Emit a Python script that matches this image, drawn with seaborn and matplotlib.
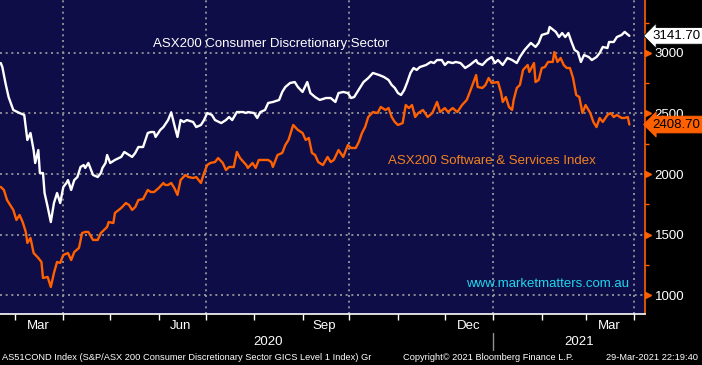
import numpy as np
import pandas as pd
import matplotlib
matplotlib.use('Agg')
import matplotlib.pyplot as plt
import matplotlib.dates as mdates
import matplotlib.transforms as mtransforms
import seaborn as sns

# day offsets from the first trading day shown, and index levels
start = pd.Timestamp('2020-02-21')

disc_days = [0, 1, 3, 5, 8, 12, 15, 16, 17, 19, 21, 22, 24, 25, 27, 28, 30, 32, 34, 36,
             38, 40, 42, 43, 45, 47, 49, 51, 53, 54, 56, 59, 62, 64, 65, 67, 68, 70, 73, 77,
             79, 82, 84, 86, 88, 91, 94, 96, 98, 99, 102, 104, 107, 109, 111, 113, 115, 117, 119, 123,
             125, 128, 130, 132, 135, 137, 141, 144, 146, 148, 151, 155, 157, 158, 162, 164, 166, 169, 171, 174,
             178, 180, 182, 185, 188, 190, 193, 196, 198, 201, 204, 208, 211, 214, 216, 219, 222, 224, 226, 228,
             230, 232, 235, 238, 242, 245, 248, 250, 252, 254, 256, 258, 260, 262, 264, 266, 268, 272, 275, 277,
             279, 282, 284, 286, 289, 291, 294, 297, 300, 304, 305, 308, 311, 314, 316, 318, 321, 324, 327, 330,
             332, 335, 339, 342, 344, 346, 350, 351, 355, 357, 359, 361, 363, 365, 367, 369, 371, 373, 376, 378,
             381, 383, 385, 388, 389, 392, 394, 397, 399, 402]
disc_vals = [2917, 2884, 2752, 2636, 2529, 2504, 2488, 2388, 2281, 2339, 2198, 2091, 2198, 2008, 2008, 1843, 1727, 1603, 1760, 1843,
             1760, 1893, 1926, 1950, 1868, 1950, 1975, 2058, 2074, 2050, 2091, 1992, 1975, 2008, 2050, 2091, 2157, 2091, 2116, 2141,
             2182, 2157, 2141, 2174, 2223, 2223, 2339, 2347, 2347, 2306, 2364, 2388, 2446, 2510, 2405, 2306, 2446, 2430, 2446, 2430,
             2388, 2405, 2446, 2504, 2488, 2446, 2421, 2446, 2471, 2446, 2512, 2512, 2504, 2512, 2504, 2463, 2512, 2529, 2587, 2595,
             2612, 2678, 2719, 2752, 2760, 2719, 2678, 2760, 2669, 2636, 2612, 2628, 2628, 2595, 2669, 2678, 2669, 2628, 2636, 2678,
             2719, 2760, 2793, 2835, 2818, 2802, 2777, 2736, 2711, 2669, 2653, 2694, 2760, 2835, 2876, 2860, 2884, 2901, 2926, 2917,
             2942, 2942, 2901, 2926, 2917, 2926, 2917, 2876, 2901, 2942, 2917, 2901, 2942, 2967, 2917, 2942, 2901, 2959, 2942, 2917,
             2967, 3025, 3083, 3050, 3083, 3149, 3165, 3215, 3174, 3132, 3165, 3132, 3165, 3091, 3025, 3008, 2926, 2983, 2967, 2942,
             2967, 3000, 3050, 3041, 3091, 3091, 3132, 3149, 3174, 3141.7]

soft_days = [0, 2, 4, 8, 10, 12, 14, 16, 17, 19, 21, 24, 26, 27, 30, 32, 34, 36, 38, 40,
             43, 45, 47, 50, 52, 54, 56, 59, 62, 64, 66, 68, 69, 72, 73, 77, 80, 82, 84, 86,
             88, 91, 94, 96, 98, 101, 104, 105, 107, 109, 111, 113, 115, 118, 120, 123, 125, 128, 130, 132,
             134, 137, 139, 142, 144, 146, 149, 151, 153, 157, 158, 161, 163, 165, 168, 171, 173, 174, 177, 180,
             182, 184, 187, 190, 193, 195, 197, 199, 201, 203, 206, 209, 211, 213, 216, 219, 222, 224, 227, 229,
             231, 233, 235, 238, 241, 243, 246, 248, 250, 252, 254, 257, 259, 261, 263, 265, 267, 270, 273, 276,
             279, 281, 284, 286, 289, 292, 295, 298, 300, 304, 305, 308, 310, 312, 314, 318, 320, 321, 323, 325,
             327, 328, 330, 332, 334, 337, 338, 341, 342, 344, 346, 348, 350, 353, 354, 356, 358, 360, 362, 364,
             366, 368, 370, 372, 374, 377, 379, 381, 383, 385, 388, 390, 392, 394, 397, 399, 401, 402]
soft_vals = [1893, 1868, 1785, 1703, 1620, 1661, 1603, 1521, 1430, 1471, 1347, 1306, 1273, 1141, 1149, 1066, 1182, 1273, 1265, 1331,
             1347, 1289, 1355, 1389, 1512, 1521, 1521, 1455, 1455, 1512, 1537, 1562, 1603, 1595, 1678, 1719, 1760, 1744, 1703, 1727,
             1785, 1793, 1868, 1851, 1851, 1884, 1926, 1910, 1909, 1926, 1884, 1827, 1950, 1992, 1975, 1967, 1975, 1926, 2008, 2074,
             2091, 2099, 2132, 2091, 2033, 2058, 2058, 2182, 2132, 2074, 2050, 2091, 2050, 2116, 2116, 2116, 2099, 2058, 2157, 2174,
             2240, 2281, 2405, 2364, 2339, 2281, 2298, 2174, 2157, 2099, 2074, 2141, 2099, 2116, 2198, 2141, 2240, 2215, 2215, 2265,
             2339, 2388, 2471, 2512, 2504, 2554, 2529, 2545, 2471, 2430, 2405, 2421, 2570, 2545, 2570, 2471, 2504, 2529, 2471, 2504,
             2595, 2512, 2545, 2512, 2545, 2512, 2570, 2612, 2678, 2818, 2719, 2711, 2736, 2793, 2752, 2760, 2669, 2595, 2636, 2554,
             2529, 2612, 2711, 2736, 2860, 2901, 2843, 2917, 2760, 2777, 2876, 2884, 2926, 2926, 3008, 2926, 2959, 2901, 2876, 2876,
             2793, 2653, 2636, 2504, 2570, 2504, 2430, 2388, 2463, 2430, 2488, 2504, 2471, 2488, 2463, 2463, 2471, 2408.7]

disc_name = 'ASX200 Consumer Discretionary Sector'
soft_name = 'ASX200 Software & Services Index'
y_ticks = [1000, 1500, 2000, 2500, 3000]
month_names = ['Mar', 'Jun', 'Sep', 'Dec', 'Mar']
month_mid = ['2020-03-16', '2020-06-15', '2020-09-15', '2020-12-16', '2021-03-16']
grid_dates = ['2020-04-01', '2020-07-01', '2020-10-01', '2021-01-01', '2021-04-01']
years = ['2020', '2021']
year_mid = ['2020-08-10', '2021-02-25']

navy = '#0f0d47'
orange = '#ff6000'

disc = pd.DataFrame({'date': start + pd.to_timedelta(disc_days, unit='D'), 'value': disc_vals})
soft = pd.DataFrame({'date': start + pd.to_timedelta(soft_days, unit='D'), 'value': soft_vals})

sns.set_style('dark', {'axes.facecolor': navy, 'figure.facecolor': 'black'})
plt.rcParams['font.family'] = ['Liberation Sans', 'DejaVu Sans']

fig = plt.figure(figsize=(7.02, 3.65), dpi=100)
ax = fig.add_axes([0, 1 - 314 / 365, 645 / 702, 314 / 365])
ax.set_facecolor(navy)

sns.lineplot(data=disc, x='date', y='value', color='white', lw=1.7, ax=ax, estimator=None)
sns.lineplot(data=soft, x='date', y='value', color=orange, lw=1.7, ax=ax, estimator=None)

ax.set_xlim(start - pd.Timedelta(days=0.5), start + pd.Timedelta(days=412))
ax.set_ylim(843, 3438)

# dotted grid
for g in y_ticks:
    ax.axhline(g, color='#a0a0a0', ls=(0, (1.2, 2.2)), lw=1.2, zorder=0.5)
for g in grid_dates:
    ax.axvline(pd.Timestamp(g), color='#a0a0a0', ls=(0, (1.2, 2.2)), lw=1.2, zorder=0.5)
ax.grid(False)

# right axis
ax.yaxis.tick_right()
ax.set_yticks(y_ticks)
ax.set_yticks(np.arange(1250, 3300, 500), minor=True)
ax.tick_params(axis='y', which='major', length=0, pad=7, labelcolor='white', labelsize=9.5)
ax.tick_params(axis='y', which='minor', length=3, color=orange, width=1, right=True)
ax.set_ylabel('')
ax.set_xlabel('')
tr = mtransforms.blended_transform_factory(ax.transAxes, ax.transData)
ax.plot([1.004] * len(y_ticks), y_ticks, ls='none', marker='>', ms=5, color=orange,
        transform=tr, clip_on=False, zorder=5)

for side in ['left', 'top']:
    ax.spines[side].set_visible(False)
ax.spines['right'].set_color(orange)
ax.spines['right'].set_linewidth(1.2)
ax.spines['bottom'].set_color('white')
ax.spines['bottom'].set_linewidth(1.2)

# bottom month ticks
ax.xaxis.set_major_locator(mdates.MonthLocator())
ax.xaxis.set_major_formatter(plt.NullFormatter())
ax.tick_params(axis='x', which='major', length=4, color='white', width=1, bottom=True)
trx = mtransforms.blended_transform_factory(ax.transData, fig.transFigure)
for name, d in zip(month_names, month_mid):
    ax.text(pd.Timestamp(d), 1 - 326 / 365, name, transform=trx, color='white',
            ha='center', va='center', fontsize=9.5)
for name, d in zip(years, year_mid):
    ax.text(pd.Timestamp(d), 1 - 342 / 365, name, transform=trx, color='white',
            ha='center', va='center', fontsize=9.5)
ax.plot([pd.Timestamp('2021-01-01')] * 2, [1 - 333 / 365, 1 - 350 / 365], color='#909090', lw=1,
        transform=trx, clip_on=False)

# series labels
ax.text(0.237, 0.86, disc_name, transform=ax.transAxes, color='white', fontsize=9.5, va='center')
ax.text(0.601, 0.487, soft_name, transform=ax.transAxes, color='#f0821e', fontsize=9.5, va='center')
ax.text(0.722, 0.096, 'www.marketmatters.com.au', transform=ax.transAxes, color='#1ed6ee',
        fontsize=9.5, va='center')

# last value tags
ax.annotate(f'{disc_vals[-1]:.2f}', xy=(1.0, disc_vals[-1]), xycoords=tr, xytext=(5.5, 0),
            textcoords='offset points', va='center', ha='left', fontsize=9.5, color='black',
            bbox=dict(boxstyle='larrow,pad=0.18', fc='white', ec='black', lw=0.6), zorder=6,
            annotation_clip=False)
ax.annotate(f'{soft_vals[-1]:.2f}', xy=(1.0, soft_vals[-1]), xycoords=tr, xytext=(5.5, 0),
            textcoords='offset points', va='center', ha='left', fontsize=9.5, color='black',
            bbox=dict(boxstyle='larrow,pad=0.18', fc=orange, ec=orange, lw=0.6), zorder=6,
            annotation_clip=False)

# footer
fig.text(0.003, 1 - 357 / 365, 'AS51COND Index (S&P/ASX 200 Consumer Discretionary Sector GICS Level 1 Index) Gr',
         color='white', fontsize=6.7, va='center', ha='left')
fig.text(403 / 702, 1 - 357 / 365, 'Copyright\u00a9 2021 Bloomberg Finance L.P.', color='white',
         fontsize=6.7, va='center', ha='left')
fig.text(0.995, 1 - 357 / 365, '29-Mar-2021 22:19:40', color='white', fontsize=6.7,
         va='center', ha='right')

fig.savefig('out.png', dpi=100, facecolor='black')
